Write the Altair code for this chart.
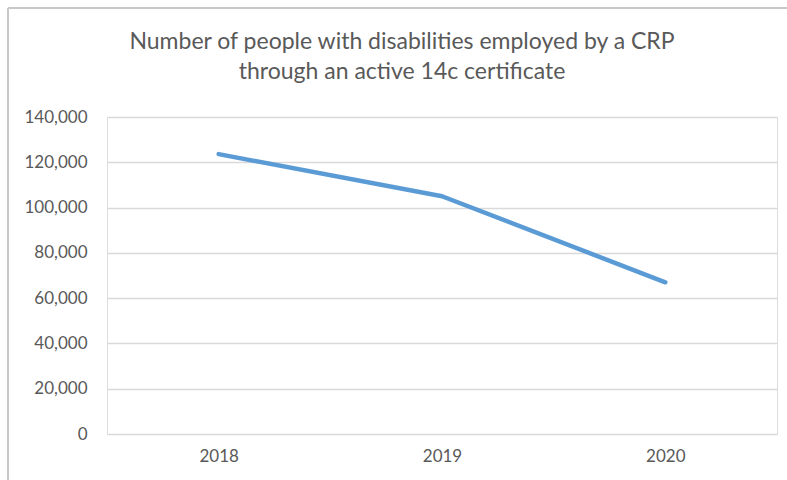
import altair as alt
import pandas as pd

years = ["2018", "2019", "2020"]
employed = [123600, 105000, 67000]
title_lines = ["Number of people with disabilities employed by a CRP",
               "through an active 14c certificate"]
y_ticks = [0, 20000, 40000, 60000, 80000, 100000, 120000, 140000]

df = pd.DataFrame({"year": years, "employed": employed})

W, H = 670, 317
PL, PT = 107, 117

line = alt.Chart(df).mark_line(color="#5B9BD5", strokeWidth=4.5, strokeCap="round", strokeJoin="round").encode(
    x=alt.X("year:N", sort=years, title=None,
            scale=alt.Scale(paddingInner=0, paddingOuter=0.5),
            axis=alt.Axis(labelAngle=0, ticks=False, domain=False, labelPadding=14,
                          labelFontSize=17, labelColor="#595959", labelFont="Lato")),
    y=alt.Y("employed:Q", title=None,
            scale=alt.Scale(domain=[0, 140000], nice=False),
            axis=alt.Axis(values=y_ticks, format=",.0f", ticks=False, domain=False, labelPadding=20,
                          labelFontSize=17, labelColor="#595959", labelFont="Lato",
                          gridColor="#d9d9d9", gridWidth=1.5)),
)

border_left = alt.Chart(df).mark_rule(color="#c8c8c8", strokeWidth=2).encode(
    x=alt.value(8 - PL), y=alt.value(8 - PT), y2=alt.value(H + 100))
border_top = alt.Chart(df).mark_rule(color="#c8c8c8", strokeWidth=2).encode(
    y=alt.value(8 - PT), x=alt.value(8 - PL), x2=alt.value(W + 100))

chart = alt.layer(line, border_left, border_top).properties(
    width=W, height=H,
    title=alt.TitleParams(text=title_lines, anchor="middle", frame="group", dx=-40, offset=-77,
                          baseline="top",
                          fontSize=23, font="Lato", fontWeight="normal", color="#595959",
                          lineHeight=30),
    autosize=alt.AutoSizeParams(type="none"),
    padding={"left": PL, "top": PT, "right": 787 - PL - W, "bottom": 480 - PT - H},
).configure_view(stroke=None).configure(background="white")

chart.save("out.html", embed_options={"renderer": "svg", "actions": False})
